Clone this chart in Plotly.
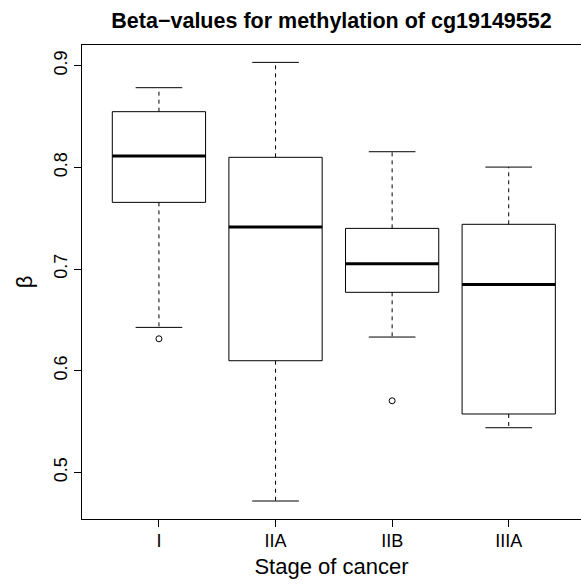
import plotly.graph_objects as go

stages = ["I", "IIA", "IIB", "IIIA"]
lower_whisker = [0.6426, 0.4718, 0.6331, 0.5439]
q1 = [0.7656, 0.6098, 0.6771, 0.5574]
median = [0.8112, 0.7413, 0.7052, 0.6849]
q3 = [0.8548, 0.8099, 0.7400, 0.7440]
upper_whisker = [0.8784, 0.9033, 0.8154, 0.8003]
outlier_stage = ["I", "IIB"]
outlier_value = [0.6314, 0.5704]

half_box = 0.4
half_cap = 0.2

box_x, box_y = [], []
med_x, med_y = [], []
wh_x, wh_y = [], []
cap_x, cap_y = [], []
for i, s in enumerate(stages):
    c = i + 1
    box_x += [c - half_box, c + half_box, c + half_box, c - half_box, c - half_box, None]
    box_y += [q1[i], q1[i], q3[i], q3[i], q1[i], None]
    med_x += [c - half_box, c + half_box, None]
    med_y += [median[i], median[i], None]
    wh_x += [c, c, None, c, c, None]
    wh_y += [q3[i], upper_whisker[i], None, q1[i], lower_whisker[i], None]
    cap_x += [c - half_cap, c + half_cap, None, c - half_cap, c + half_cap, None]
    cap_y += [upper_whisker[i], upper_whisker[i], None, lower_whisker[i], lower_whisker[i], None]

out_x = [stages.index(s) + 1 for s in outlier_stage]

fig = go.Figure()
fig.add_trace(go.Scatter(x=wh_x, y=wh_y, mode="lines",
                         line=dict(color="black", width=1, dash="4px,4px"), hoverinfo="skip"))
fig.add_trace(go.Scatter(x=cap_x, y=cap_y, mode="lines",
                         line=dict(color="black", width=1), hoverinfo="skip"))
fig.add_trace(go.Scatter(x=box_x, y=box_y, mode="lines",
                         line=dict(color="black", width=1), hoverinfo="skip"))
fig.add_trace(go.Scatter(x=med_x, y=med_y, mode="lines",
                         line=dict(color="black", width=3), hoverinfo="skip"))
fig.add_trace(go.Scatter(x=out_x, y=outlier_value, mode="markers",
                         marker=dict(symbol="circle-open", size=6, color="black",
                                     line=dict(width=1, color="black"))))

fig.update_layout(
    width=581, height=584,
    margin=dict(l=82, r=0, t=45, b=65),
    paper_bgcolor="white", plot_bgcolor="white",
    showlegend=False,
    font=dict(family="Liberation Sans, Arial, sans-serif", color="black"),
    title=dict(text="<b>Beta\u2212values for methylation of cg19149552</b>",
               x=0.5, xref="paper", xanchor="center",
               y=1 - 20 / 584, yref="container", yanchor="middle",
               font=dict(size=21.5, color="black")),
)
fig.update_xaxes(
    range=[0.34, 4.62], tickvals=[1, 2, 3, 4], ticktext=stages,
    showline=True, mirror=True, linecolor="black", linewidth=1,
    ticks="outside", ticklen=7, tickcolor="black", tickwidth=1,
    showgrid=False, zeroline=False, ticklabelstandoff=-2,
    tickfont=dict(size=18),
    title=dict(text="Stage of cancer", font=dict(size=22), standoff=9),
)
fig.update_yaxes(
    range=[0.4541, 0.9204], tickvals=[0.5, 0.6, 0.7, 0.8, 0.9],
    ticktext=["0.5", "0.6", "0.7", "0.8", "0.9"], tickangle=-90,
    showline=True, mirror=False, linecolor="black", linewidth=1,
    ticks="outside", ticklen=7, tickcolor="black", tickwidth=1,
    showgrid=False, zeroline=False,
    tickfont=dict(size=18),
    title=dict(text="\u03b2", font=dict(size=22), standoff=12),
)

fig.write_html("out.html")
